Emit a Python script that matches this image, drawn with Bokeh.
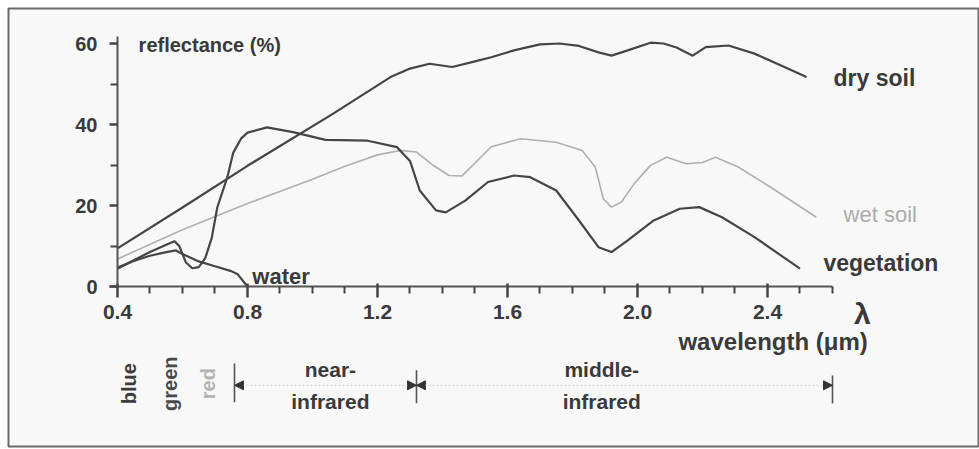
import math
from bokeh.plotting import figure
from bokeh.models import (LinearAxis, FixedTicker, PrintfTickFormatter, Range1d,
                          Arrow, NormalHead, ColumnDataSource)
from bokeh.core.properties import value
from bokeh.embed import file_html
from bokeh.resources import INLINE

# ---------------- data ----------------
dry_soil_x = [0.40, 0.60, 0.80, 1.06, 1.24, 1.30, 1.36, 1.43, 1.50, 1.55, 1.62, 1.70, 1.76,
              1.82, 1.88, 1.92, 1.97, 2.04, 2.08, 2.12, 2.17, 2.21, 2.28, 2.36, 2.44, 2.52]
dry_soil_y = [9.4, 19.5, 29.8, 42.5, 51.7, 53.8, 55.0, 54.2, 55.6, 56.6, 58.3, 59.8, 60.0,
              59.4, 57.8, 57.0, 58.3, 60.2, 60.0, 59.0, 57.0, 59.1, 59.5, 57.5, 54.6, 51.7]

wet_soil_x = [0.40, 0.60, 0.80, 1.00, 1.10, 1.20, 1.27, 1.32, 1.37, 1.42, 1.46, 1.50, 1.55,
              1.64, 1.75, 1.83, 1.87, 1.895, 1.92, 1.95, 1.99, 2.04, 2.09, 2.15, 2.20, 2.24,
              2.31, 2.41, 2.55]
wet_soil_y = [6.8, 14.0, 20.5, 26.5, 29.7, 32.5, 33.6, 33.2, 30.0, 27.4, 27.3, 30.5, 34.5,
              36.5, 35.6, 33.6, 29.5, 21.6, 19.6, 20.8, 25.4, 29.9, 31.9, 30.3, 30.6, 31.9,
              29.5, 24.5, 17.1]

vegetation_x = [0.40, 0.45, 0.50, 0.55, 0.575, 0.59, 0.61, 0.63, 0.65, 0.67, 0.69, 0.707,
                0.738, 0.756, 0.78, 0.80, 0.86, 0.94, 1.04, 1.17, 1.26, 1.30, 1.33, 1.38,
                1.41, 1.47, 1.54, 1.62, 1.67, 1.75, 1.82, 1.88, 1.92, 1.97, 2.05, 2.13,
                2.19, 2.26, 2.36, 2.50]
vegetation_y = [4.4, 6.5, 8.5, 10.3, 11.2, 10.0, 6.0, 4.5, 4.8, 7.0, 12.0, 19.5,
                27.0, 33.0, 36.5, 38.0, 39.3, 38.1, 36.2, 36.0, 34.4, 31.0, 23.7, 18.8,
                18.3, 21.2, 25.8, 27.4, 27.0, 23.7, 16.3, 9.7, 8.5, 11.4, 16.3, 19.2,
                19.6, 17.1, 12.2, 4.4]

water_x = [0.40, 0.45, 0.50, 0.55, 0.58, 0.60, 0.62, 0.65, 0.70, 0.75, 0.77, 0.79, 0.80]
water_y = [4.7, 6.3, 7.6, 8.5, 8.9, 8.0, 7.3, 6.2, 5.0, 3.8, 3.0, 1.0, 0.0]

x_major_ticks = [0.4, 0.8, 1.2, 1.6, 2.0, 2.4]
x_minor_ticks = [0.5, 0.6, 0.7, 0.9, 1.0, 1.1, 1.3, 1.4, 1.5, 1.7, 1.8, 1.9,
                 2.1, 2.2, 2.3, 2.5, 2.6]
y_major_ticks = [0, 20, 40, 60]
y_minor_ticks = [10, 30, 50]

# spectral bands below the axis
colour_band_names = ["blue", "green", "red"]
colour_band_x = [0.434, 0.563, 0.68]
colour_band_colors = ["#3c3c3c", "#4a4a4a", "#b4b4b4"]
ir_edges = [0.76, 1.32, 2.6]
ir_band_names_top = ["near-", "middle-"]
ir_band_names_bottom = ["infrared", "infrared"]
ir_label_x = [1.055, 1.89]

# ---------------- figure ----------------
FONT = "Liberation Sans"
INK = "#454545"
TXT = "#3a3a3a"

p = figure(width=979, height=449, output_backend="svg", toolbar_location=None,
           x_axis_type=None, y_axis_type=None,
           min_border_left=8, min_border_top=8, min_border_right=0, min_border_bottom=3,
           x_range=Range1d(0.06462, 3.05231), y_range=Range1d(-39.506, 68.642))
p.background_fill_color = "#f8f8f8"
p.border_fill_color = "#ffffff"
p.outline_line_color = "#6a6a6a"
p.outline_line_width = 2

# axes at fixed data locations
xaxis = LinearAxis(fixed_location=0, bounds=(0.375, 2.6),
                   ticker=FixedTicker(ticks=x_major_ticks, minor_ticks=x_minor_ticks),
                   formatter=PrintfTickFormatter(format="%.1f"))
xaxis.axis_line_color = "#555555"
xaxis.axis_line_width = 2
xaxis.major_tick_line_color = "#444444"
xaxis.major_tick_line_width = 2.5
xaxis.major_tick_out = 11
xaxis.major_tick_in = 3
xaxis.minor_tick_line_color = "#444444"
xaxis.minor_tick_line_width = 2
xaxis.minor_tick_out = 7
xaxis.minor_tick_in = 0
xaxis.major_label_standoff = 7
xaxis.major_label_text_font = FONT
xaxis.major_label_text_font_size = "21px"
xaxis.major_label_text_font_style = "bold"
xaxis.major_label_text_color = TXT
p.add_layout(xaxis, "below")

yaxis = LinearAxis(fixed_location=0.4, bounds=(0, 61.8),
                   ticker=FixedTicker(ticks=y_major_ticks, minor_ticks=y_minor_ticks))
yaxis.axis_line_color = "#555555"
yaxis.axis_line_width = 2
yaxis.major_tick_line_color = "#444444"
yaxis.major_tick_line_width = 2.5
yaxis.major_tick_out = 8
yaxis.major_tick_in = 0
yaxis.minor_tick_line_color = "#444444"
yaxis.minor_tick_line_width = 2
yaxis.minor_tick_out = 7
yaxis.minor_tick_in = 0
yaxis.major_label_standoff = 12
yaxis.major_label_text_font = FONT
yaxis.major_label_text_font_size = "20px"
yaxis.major_label_text_font_style = "bold"
yaxis.major_label_text_color = TXT
p.add_layout(yaxis, "left")

# curves
p.line(wet_soil_x, wet_soil_y, line_color="#b0b0b0", line_width=1.6)
p.line(dry_soil_x, dry_soil_y, line_color=INK, line_width=2.2)
p.line(vegetation_x, vegetation_y, line_color=INK, line_width=2.2)
p.line(water_x, water_y, line_color=INK, line_width=2.2)

def label(x, y, txt, size, color=TXT, align="left", baseline="alphabetic",
          style="bold", angle=0.0):
    src = ColumnDataSource(dict(x=[x], y=[y], t=[txt]))
    p.text(x="x", y="y", text="t", source=src, text_font=value(FONT),
           text_font_size=size, text_font_style=style, text_color=color,
           text_align=align, text_baseline=baseline, angle=angle)

# curve names
label(2.603, 51.6, "dry soil", "23px")
label(2.634, 17.8, "wet soil", "22px", color="#acacac", style="normal")
label(2.572, 5.9, "vegetation", "23px")
label(0.815, 2.4, "water", "22px")
label(0.465, 59.6, "reflectance (%)", "20px")
label(2.126, -13.6, "wavelength (\u03bcm)", "24px")
label(2.692, -6.6, "\u03bb", "30px", align="center")

# colour bands (rotated)
cb = ColumnDataSource(dict(x=colour_band_x, y=[-24.0] * 3, t=colour_band_names,
                           c=colour_band_colors))
p.text(x="x", y="y", text="t", source=cb, text_font=value(FONT), text_font_size="20px",
       text_font_style="bold", text_color="c", text_align="center",
       text_baseline="middle", angle=math.pi / 2)

# infrared band delimiters
p.segment(x0=ir_edges, x1=ir_edges, y0=[-19.0, -20.7, -22.0], y1=[-28.6, -28.8, -28.9],
          line_color="#555555", line_width=1.6)
for a, b in zip(ir_edges[:-1], ir_edges[1:]):
    p.add_layout(Arrow(x_start=a, y_start=-24.4, x_end=b, y_end=-24.4,
                       line_color="#d0d0d0", line_width=1, line_dash="2 2",
                       start=NormalHead(size=9, fill_color="#333333", line_color="#333333"),
                       end=NormalHead(size=9, fill_color="#333333", line_color="#333333")))

for xm, t1, t2 in zip(ir_label_x, ir_band_names_top, ir_band_names_bottom):
    label(xm, -20.5, t1, "21px", align="center")
    label(xm, -28.4, t2, "21px", align="center")

open("out.html", "w").write(file_html(p, INLINE))
